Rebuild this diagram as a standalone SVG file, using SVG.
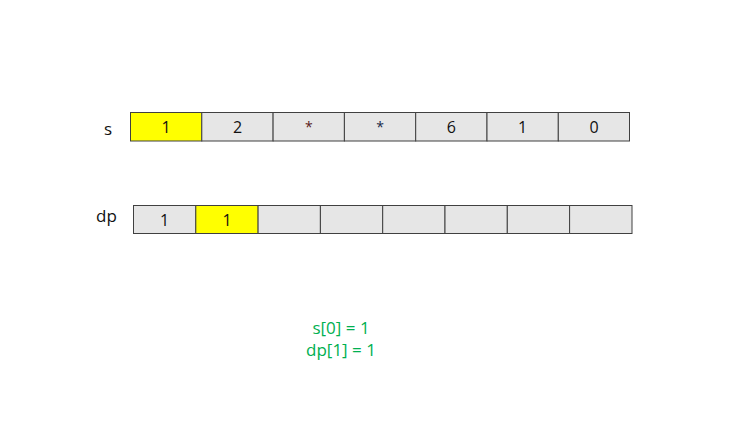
<svg xmlns="http://www.w3.org/2000/svg" width="748" height="421" viewBox="0 0 748 421">
<style>
.cell{fill:#e6e6e6;stroke:#404040;stroke-width:1}
.hl{fill:#ffff00;stroke:#404040;stroke-width:1}
text{font-family:"Open Sans","Liberation Sans",sans-serif;font-size:16px;text-anchor:middle;dominant-baseline:central;fill:#111}
.lbl{text-anchor:start;font-size:17px}
.note{fill:#00b050;font-size:17px}
</style>
<rect width="748" height="421" fill="#fff"/>
<g id="label-s"><text class="lbl" x="104" y="128">s</text></g>
<g id="s-array">
<rect class="hl" x="130.5" y="112.5" width="71.3" height="28.5"/><text x="166" y="127">1</text>
<rect class="cell" x="201.8" y="112.5" width="71.3" height="28.5"/><text x="237.5" y="127">2</text>
<rect class="cell" x="273.1" y="112.5" width="71.3" height="28.5"/><text x="308.8" y="126" style="fill:#5a1a1a;font-size:14px">*</text>
<rect class="cell" x="344.4" y="112.5" width="71.3" height="28.5"/><text x="380" y="126" style="fill:#1a2a4a;font-size:14px">*</text>
<rect class="cell" x="415.7" y="112.5" width="71.3" height="28.5"/><text x="451.3" y="127">6</text>
<rect class="cell" x="487" y="112.5" width="71.3" height="28.5"/><text x="522.6" y="127">1</text>
<rect class="cell" x="558.3" y="112.5" width="71.2" height="28.5"/><text x="594" y="127">0</text>
</g>
<g id="label-dp"><text class="lbl" x="96" y="215">dp</text></g>
<g id="dp-array">
<rect class="cell" x="133.5" y="205.5" width="62.3" height="28"/><text x="164.6" y="219.5">1</text>
<rect class="hl" x="195.8" y="205.5" width="62.3" height="28"/><text x="227" y="219.5">1</text>
<rect class="cell" x="258.1" y="205.5" width="62.3" height="28"/>
<rect class="cell" x="320.4" y="205.5" width="62.3" height="28"/>
<rect class="cell" x="382.7" y="205.5" width="62.3" height="28"/>
<rect class="cell" x="445" y="205.5" width="62.3" height="28"/>
<rect class="cell" x="507.3" y="205.5" width="62.3" height="28"/>
<rect class="cell" x="569.6" y="205.5" width="62.4" height="28"/>
</g>
<g id="note">
<text class="note" x="341" y="327">s[0] = 1</text>
<text class="note" x="341" y="349">dp[1] = 1</text>
</g>
</svg>
